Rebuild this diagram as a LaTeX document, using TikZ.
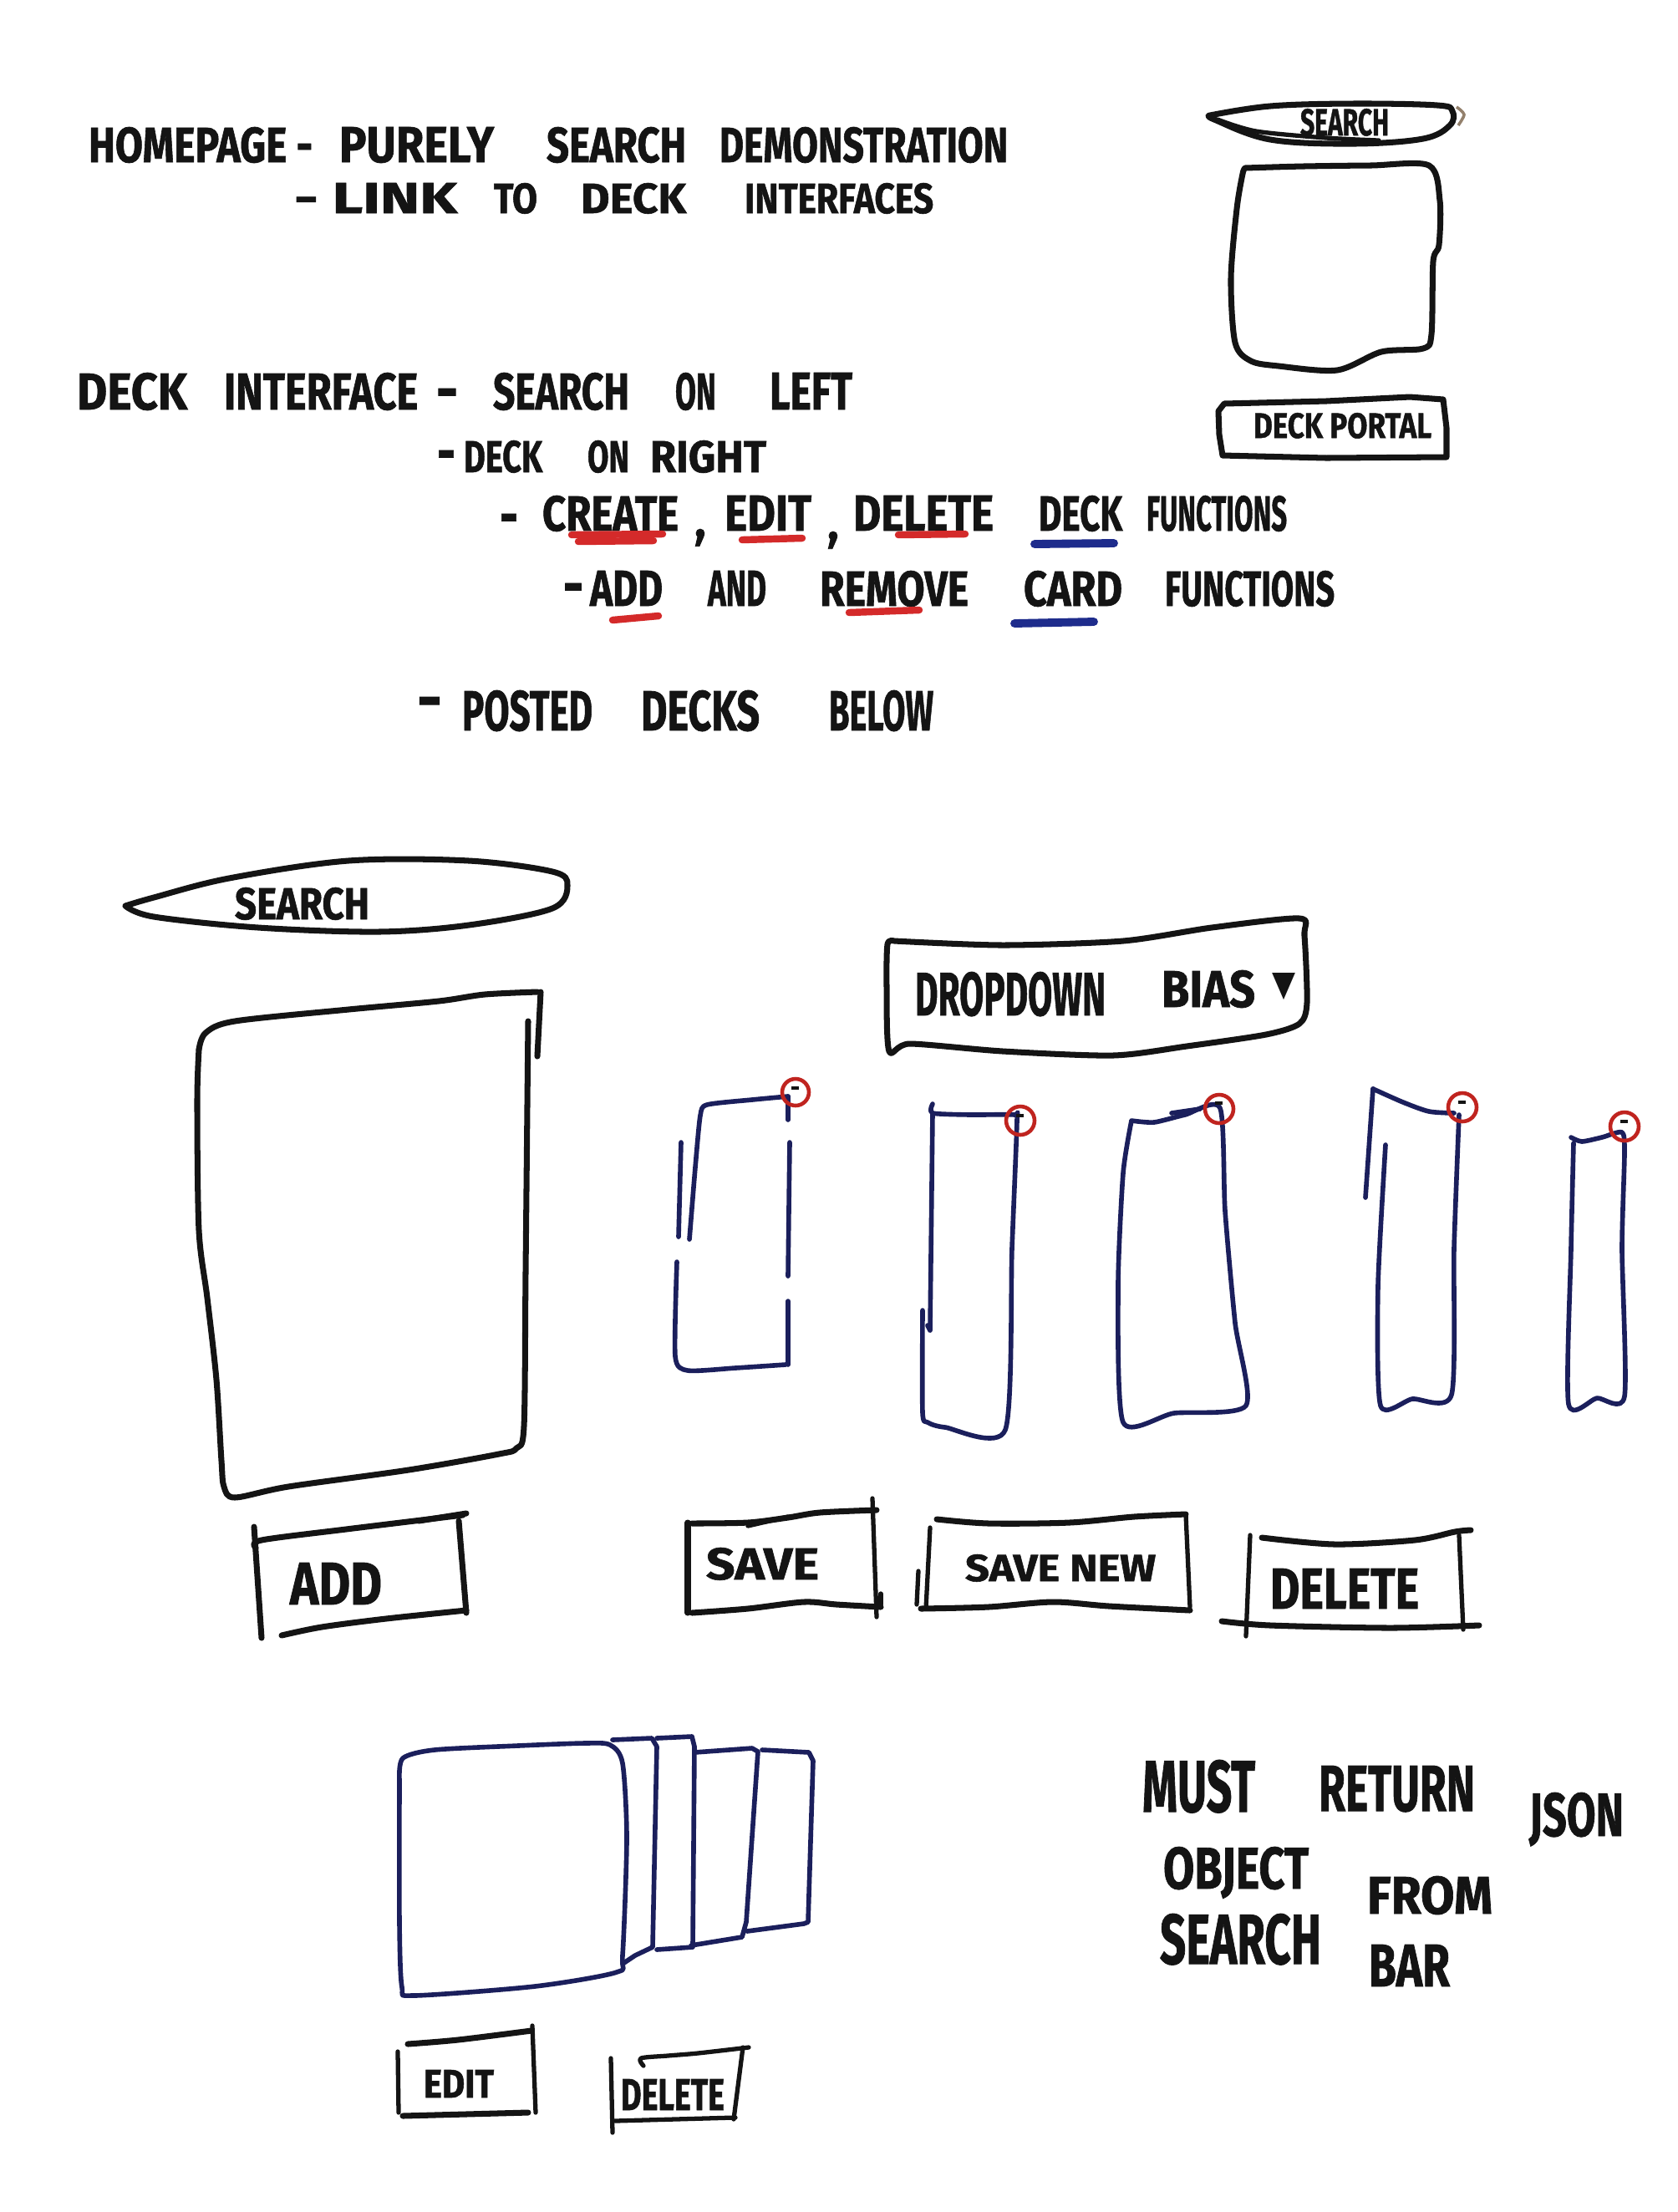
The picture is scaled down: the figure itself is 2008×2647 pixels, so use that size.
\documentclass[tikz,border=0pt]{standalone}
\usepackage{fontspec}
\setmainfont{Fira Sans}[FakeBold=1.2]
\newfontfamily\symfont{DejaVu Sans}
\usepackage{graphicx}
\newlength\pxu \setlength\pxu{0.1mm}
\newcommand\hwtext[3]{\resizebox{#1\pxu}{#2\pxu}{\bfseries #3}}
\definecolor{inkc}{HTML}{141414}
\definecolor{navyc}{HTML}{1B1F5C}
\definecolor{redc}{HTML}{C0241F}
\definecolor{mred}{HTML}{D42A2A}
\definecolor{mblue}{HTML}{1E2C8C}
\tikzset{
  ink/.style={draw=inkc, line width=2pt, line cap=round, line join=round},
  thinink/.style={draw=inkc, line width=1.5pt, line cap=round, line join=round},
  blueink/.style={draw=navyc, line width=1.6pt, line cap=round, line join=round},
  redring/.style={draw=redc, line width=1.3pt},
  hand/.style={inner sep=0pt, outer sep=0pt, anchor=base west, text=inkc},
  commas/.style={inner sep=0pt, outer sep=0pt, anchor=base, text=inkc, font=\fontsize{20}{20}\selectfont},
  redmark/.style={draw=mred, line width=2.4pt, line cap=round},
  bluemark/.style={draw=mblue, line width=2.8pt, line cap=round},
}
\begin{document}
\begin{tikzpicture}[x=0.01cm,y=-0.01cm]
\useasboundingbox[fill=white] (0,0) rectangle (2008,2647);

% ---------- notes ----------
\node[hand] (l1a) at (106,194) {\hwtext{268}{42}{HOMEPAGE -}};
\node[hand] (l1b) at (406,194) {\hwtext{185}{42}{PURELY}};
\node[hand] (l1c) at (654,194) {\hwtext{167}{42}{SEARCH}};
\node[hand] (l1e) at (861,194) {\hwtext{345}{42}{DEMONSTRATION}};

\node[hand] (l2a) at (352,255) {\hwtext{195}{36}{- LINK}};
\node[hand] (l2b) at (591,255) {\hwtext{52}{36}{TO}};
\node[hand] (l2c) at (695,255) {\hwtext{126}{36}{DECK}};
\node[hand] (l2e) at (891,255) {\hwtext{226}{36}{INTERFACES}};

\node[hand] (l3a) at (92,490) {\hwtext{132}{44}{DECK}};
\node[hand] (l3b) at (268,490) {\hwtext{232}{44}{INTERFACE}};
\node[hand] (l3d) at (522,491) {\hwtext{26}{26}{-}};
\node[hand] (l3c) at (590,490) {\hwtext{163}{44}{SEARCH}};
\node[hand] (l3e) at (808,490) {\hwtext{49}{44}{ON}};
\node[hand] (l3f) at (921,490) {\hwtext{99}{44}{LEFT}};

\node[hand] (l4d) at (523,565) {\hwtext{22}{26}{-}};
\node[hand] (l4a) at (555,565) {\hwtext{94}{38}{DECK}};
\node[hand] (l4b) at (703,565) {\hwtext{50}{38}{ON}};
\node[hand] (l4c) at (778,565) {\hwtext{139}{38}{RIGHT}};

\node[hand] (l5d) at (598,641) {\hwtext{22}{26}{-}};
\node[hand] (l5a) at (649,635) {\hwtext{163}{42}{CREATE}};
\node[commas] (l5k1) at (838,642) {,};
\node[hand] (l5b) at (867,635) {\hwtext{104}{42}{EDIT}};
\node[commas] (l5k2) at (997,645) {,};
\node[hand] (l5c) at (1021,635) {\hwtext{168}{42}{DELETE}};
\node[hand] (l5e) at (1243,635) {\hwtext{100}{42}{DECK}};
\node[hand] (l5f) at (1372,635) {\hwtext{168}{42}{FUNCTIONS}};

\node[hand] (l6d) at (674,724) {\hwtext{24}{26}{-}};
\node[hand] (l6a) at (706,725) {\hwtext{87}{42}{ADD}};
\node[hand] (l6b) at (847,725) {\hwtext{70}{42}{AND}};
\node[hand] (l6c) at (981,725) {\hwtext{178}{42}{REMOVE}};
\node[hand] (l6e) at (1225,725) {\hwtext{118}{42}{CARD}};
\node[hand] (l6f) at (1394,725) {\hwtext{203}{42}{FUNCTIONS}};

\node[hand] (l7d) at (499,862) {\hwtext{30}{28}{-}};
\node[hand] (l7a) at (553,874) {\hwtext{156}{48}{POSTED}};
\node[hand] (l7b) at (767,874) {\hwtext{142}{48}{DECKS}};
\node[hand] (l7c) at (992,874) {\hwtext{125}{48}{BELOW}};

% underlines
\draw[redmark] (684,640) -- (793,639);
\draw[redmark] (692,648) -- (782,647);
\draw[redmark] (888,646) -- (960,644);
\draw[redmark] (1075,640) -- (1155,639);
\draw[bluemark] (1238,651) -- (1333,650);
\draw[redmark] (733,742) -- (788,737);
\draw[redmark] (1016,733) -- (1100,730);
\draw[bluemark] (1214,746) -- (1309,744);

% ---------- homepage mock ----------
\draw[ink] plot[smooth, tension=0.6] coordinates {(1448,138) (1520,127) (1620,124) (1720,126) (1738,133) (1735,150) (1703,166) (1620,172) (1520,167) (1453,143) (1448,138)};
\draw[thinink] plot[smooth] coordinates {(1457,143) (1503,157) (1587,165) (1650,168)};
\draw[draw=gray!70!brown, line width=1pt] plot[smooth] coordinates {(1743,128) (1752,137) (1745,150)};
\node[hand] (hsearch) at (1556,162) {\hwtext{106}{32}{SEARCH}};

\draw[ink] plot[smooth, tension=0.5] coordinates {(1490,201) (1560,199) (1640,198) (1710,198) (1723,240) (1722,293) (1715,313) (1713,400) (1703,417) (1653,421) (1600,443) (1530,438) (1497,432) (1478,410) (1473,333) (1480,250) (1487,208) (1490,201)};

\draw[ink] (1465,483) -- (1587,480) -- (1687,475) -- (1727,478) -- (1731,512) -- (1731,547) -- (1587,548) -- (1463,545) -- (1459,520) -- (1458,492) -- cycle;
\node[hand] (hportal) at (1500,524) {\hwtext{213}{30}{DECK PORTAL}};

% ---------- deck interface mock ----------
% search bar
\draw[ink] plot[smooth, tension=0.55] coordinates {(150,1084) (184,1074) (274,1051) (417,1030) (561,1030) (661,1043) (679,1059) (661,1087) (561,1107) (453,1115) (309,1110) (184,1097) (150,1084)};
\node[hand] (lsearch) at (281,1100) {\hwtext{161}{38}{SEARCH}};

% big card
\draw[ink] plot[smooth, tension=0.5] coordinates {(238,1256) (246,1236) (281,1222) (417,1208) (525,1198) (580,1190) (643,1187)};
\draw[ink] (647,1187) -- (643,1264);
\draw[ink] plot[smooth, tension=0.5] coordinates {(632,1222) (629,1523) (627,1707) (618,1733) (597,1740) (489,1759) (345,1779) (281,1792) (268,1779) (265,1748) (259,1651) (248,1553) (238,1472) (236,1318) (238,1256)};

% ADD button
\draw[ink] plot[smooth] coordinates {(306,1852) (313,1843) (414,1830) (554,1813)};
\draw[ink] (501,1820) -- (558,1811);
\draw[ink] (304,1827) -- (313,1960);
\draw[ink] (549,1820) -- (558,1930);
\draw[ink] plot[smooth] coordinates {(337,1957) (385,1947) (462,1937) (558,1927)};
\node[hand] (badd) at (347,1920) {\hwtext{110}{50}{ADD}};

% dropdown
\draw[ink] plot[smooth, tension=0.45] coordinates {(1070,1126) (1200,1131) (1344,1126) (1450,1110) (1555,1099) (1561,1120) (1564,1200) (1555,1225) (1515,1238) (1420,1252) (1332,1263) (1200,1258) (1089,1249) (1064,1258) (1061,1180) (1062,1130) (1070,1126)};
\node[hand] (ddrop) at (1095,1215) {\hwtext{228}{52}{DROPDOWN}};
\node[hand] (dbias) at (1390,1205) {\hwtext{112}{44}{BIAS}};
\node[hand] (darrow) at (1522,1191) {\hwtext{28}{27}{\symfont ▼}};

% card 1
\draw[blueink] plot[smooth, tension=0.4] coordinates {(825,1483) (832,1397) (838,1335) (846,1322) (900,1316) (943,1312)};
\draw[blueink] (815,1367) -- (812,1480);
\draw[blueink] plot[smooth, tension=0.4] coordinates {(810,1510) (808,1623) (823,1640) (880,1637) (940,1633)};
\draw[blueink] (943,1633) -- (943,1557);
\draw[blueink] (943,1527) -- (945,1367);
\draw[blueink] (943,1340) -- (943,1312);
\draw[redring] (952,1307) circle [radius=16];
\draw[draw=inkc, line width=1pt] (947,1302) -- (956,1302);

% card 2
\draw[blueink] plot[smooth, tension=0.4] coordinates {(1116,1321) (1116,1332) (1162,1334) (1214,1334) (1217,1341) (1211,1494) (1203,1711) (1131,1708) (1110,1702) (1104,1690) (1104,1568)};
\draw[blueink] (1116,1332) -- (1113,1592) -- (1110,1586);
\draw[redring] (1221,1341) circle [radius=17];
\draw[draw=inkc, line width=1pt] (1216,1335) -- (1225,1335);

% card 3
\draw[blueink] plot[smooth, tension=0.4] coordinates {(1354,1341) (1381,1343) (1418,1334) (1460,1326) (1466,1449) (1478,1583) (1491,1682) (1405,1691) (1344,1702) (1338,1539) (1344,1404) (1354,1341)};
\draw[blueink] (1402,1332) -- (1436,1327);
\draw[redring] (1459,1327) circle [radius=17];
\draw[draw=inkc, line width=1pt] (1454,1320) -- (1463,1320);

% card 4
\draw[blueink] plot[smooth, tension=0.45] coordinates {(1643,1303) (1679,1319) (1710,1330) (1740,1332)};
\draw[blueink] (1643,1303) -- (1634,1433);
\draw[blueink] plot[smooth, tension=0.4] coordinates {(1746,1334) (1740,1494) (1737,1669) (1690,1674) (1652,1682) (1649,1539) (1658,1370)};
\draw[redring] (1750,1325) circle [radius=17];
\draw[draw=inkc, line width=1pt] (1745,1319) -- (1754,1319);

% card 5
\draw[blueink] plot[smooth, tension=0.4] coordinates {(1880,1361) (1893,1366) (1917,1361) (1941,1355) (1944,1380) (1941,1494) (1944,1671) (1911,1673) (1877,1680) (1880,1494) (1883,1368)};
\draw[redring] (1944,1348) circle [radius=17];
\draw[draw=inkc, line width=1pt] (1939,1342) -- (1948,1342);

% SAVE button
\draw[ink] (823,1822) -- (823,1930);
\draw[ink] plot[smooth] coordinates {(828,1823) (895,1822) (943,1816) (981,1810) (1049,1807)};
\draw[thinink] (895,1826) -- (943,1815);
\draw[thinink] (1044,1793) -- (1049,1935);
\draw[thinink] (1054,1907) -- (1054,1920);
\draw[ink] plot[smooth] coordinates {(828,1930) (895,1925) (962,1917) (1001,1920) (1054,1923)};
\node[hand] (bsave) at (845,1890) {\hwtext{135}{38}{SAVE}};

% SAVE NEW button
\draw[ink] plot[smooth] coordinates {(1121,1818) (1183,1823) (1280,1822) (1357,1815) (1419,1812)};
\draw[thinink] (1419,1812) -- (1424,1923);
\draw[thinink] (1113,1828) -- (1108,1925);
\draw[thinink] (1099,1880) -- (1097,1920);
\draw[ink] plot[smooth] coordinates {(1102,1925) (1183,1923) (1260,1917) (1327,1922) (1424,1927)};
\node[hand] (bsavenew) at (1155,1892) {\hwtext{228}{32}{SAVE NEW}};

% DELETE button
\draw[thinink] (1496,1837) -- (1491,1958);
\draw[ink] plot[smooth] coordinates {(1510,1840) (1597,1848) (1693,1843) (1741,1833) (1760,1831)};
\draw[thinink] (1746,1837) -- (1751,1950);
\draw[ink] plot[smooth] coordinates {(1462,1940) (1520,1945) (1664,1948) (1770,1945)};
\node[hand] (bdelete) at (1520,1925) {\hwtext{178}{48}{DELETE}};

% ---------- deck stack ----------
\draw[blueink] plot[smooth, tension=0.45] coordinates {(478,2130) (482,2104) (520,2094) (620,2089) (700,2086) (730,2088) (745,2110) (750,2200) (745,2340) (738,2360) (640,2377) (495,2388) (481,2378) (478,2300) (478,2130)};
\draw[blueink] (733,2082) -- (780,2080) -- (786,2090) -- (781,2330) -- (760,2340) -- (745,2350);
\draw[blueink] (786,2080) -- (828,2078) -- (831,2090) -- (829,2330) -- (786,2333);
\draw[blueink] (831,2097) -- (900,2092) -- (907,2096) -- (893,2300) -- (888,2318) -- (827,2328);
\draw[blueink] (912,2094) -- (968,2097) -- (973,2107) -- (967,2300) -- (962,2302) -- (894,2311);

% EDIT button
\draw[ink] plot[smooth] coordinates {(488,2446) (548,2441) (636,2430)};
\draw[thinink] (476,2455) -- (477,2528);
\draw[ink] (482,2532) -- (632,2528);
\draw[thinink] (637,2424) -- (641,2528);
\node[hand] (bedit) at (507,2510) {\hwtext{84}{33}{EDIT}};

% DELETE (deck) button
\draw[thinink] (731,2463) -- (733,2552);
\draw[thinink] plot[smooth] coordinates {(770,2472) (767,2463) (799,2460) (835,2457) (896,2450)};
\draw[thinink] (889,2450) -- (878,2536);
\draw[thinink] (736,2538) -- (880,2534);
\node[hand] (bdel2) at (743,2525) {\hwtext{124}{37}{DELETE}};

% ---------- note ----------
\node[hand] (n1) at (1367,2168) {\hwtext{135}{62}{MUST}};
\node[hand] (n2) at (1578,2167) {\hwtext{187}{54}{RETURN}};
\node[hand] (n3) at (1830,2197) {\hwtext{113}{52}{JSON}};
\node[hand] (n4) at (1392,2260) {\hwtext{174}{50}{OBJECT}};
\node[hand] (n5) at (1636,2290) {\hwtext{150}{45}{FROM}};
\node[hand] (n6) at (1388,2350) {\hwtext{193}{60}{SEARCH}};
\node[hand] (n7) at (1638,2377) {\hwtext{97}{50}{BAR}};
\end{tikzpicture}
\end{document}
